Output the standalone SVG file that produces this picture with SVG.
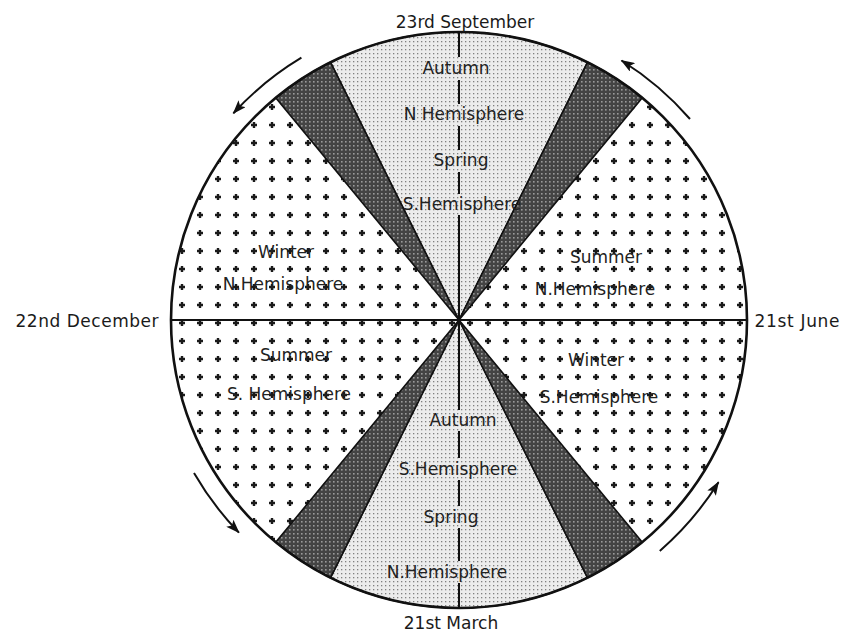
<svg xmlns="http://www.w3.org/2000/svg" width="845" height="632" viewBox="0 0 845 632">
<style>
  .lbl{font-family:"DejaVu Sans","Liberation Sans",sans-serif;font-size:17px;fill:#222;text-anchor:middle}
  .out{font-family:"DejaVu Sans","Liberation Sans",sans-serif;font-size:17px;fill:#1a1a1a;text-anchor:middle}
  .ax{stroke:#111;stroke-width:2;fill:none}
  .edge{stroke:#111;stroke-width:1.6}
  .arr{stroke:#111;stroke-width:2;fill:none;marker-end:url(#ah)}
</style>
<defs>
  <pattern id="plus" width="18" height="18" patternUnits="userSpaceOnUse" x="-7" y="8">
    <rect width="18" height="18" fill="#fff"/>
    <path d="M6 9H12M9 6V12" stroke="#1a1a1a" stroke-width="2.4"/>
  </pattern>
  <pattern id="stip" width="4" height="4" patternUnits="userSpaceOnUse">
    <rect width="4" height="4" fill="#ececec"/>
    <rect x="1" y="1" width="1.3" height="1.3" fill="#808080"/>
  </pattern>
  <pattern id="dark" width="4" height="4" patternUnits="userSpaceOnUse">
    <rect width="4" height="4" fill="#444"/>
    <rect x="1" y="1" width="1.6" height="1.6" fill="#9a9a9a"/>
  </pattern>
  <marker id="ah" viewBox="0 0 14 10" refX="13" refY="5" markerWidth="14" markerHeight="10" markerUnits="userSpaceOnUse" orient="auto">
    <path d="M0 0L14 5L0 10L3 5z" fill="#111"/>
  </marker>
</defs>

<g id="disc">
  <circle cx="459" cy="320" r="288" fill="url(#plus)"/>
</g>

<g id="light-wedges" class="edge">
  <path id="wedge-top" d="M459 320L330.5 62.3A288 288 0 0 1 587.5 62.3Z" fill="url(#stip)"/>
  <path id="wedge-bottom" d="M459 320L587.5 577.7A288 288 0 0 1 330.5 577.7Z" fill="url(#stip)"/>
</g>

<g id="dark-wedges" class="edge">
  <path id="dark-tl" d="M459 320L275.8 97.8A288 288 0 0 1 330.5 62.3Z" fill="url(#dark)"/>
  <path id="dark-tr" d="M459 320L587.5 62.3A288 288 0 0 1 642.2 97.8Z" fill="url(#dark)"/>
  <path id="dark-br" d="M459 320L642.2 542.2A288 288 0 0 1 587.5 577.7Z" fill="url(#dark)"/>
  <path id="dark-bl" d="M459 320L330.5 577.7A288 288 0 0 1 275.8 542.2Z" fill="url(#dark)"/>
</g>

<g id="axes">
  <path class="ax" d="M172 320H747"/>
  <path class="ax" d="M459 32V57M459 80V104M459 126V150M459 172V194M459 215V410M459 431V458M459 480V506M459 528V561M459 583V608"/>
</g>

<g id="outline">
  <circle cx="459" cy="320" r="288" fill="none" stroke="#111" stroke-width="2.6"/>
</g>

<g id="connectors">
  <path class="arr" d="M690 119A306 306 0 0 0 621.5 60.5"/>
  <path class="arr" d="M301.4 57.7A306 306 0 0 0 233.4 113.3"/>
  <path class="arr" d="M194 473A306 306 0 0 0 238.9 532.6"/>
  <path class="arr" d="M659.8 550.9A306 306 0 0 0 718.5 482.2"/>
</g>

<g id="dates">
  <text class="out" x="465" y="28">23rd September</text>
  <text class="out" x="87" y="327" textLength="143">22nd December</text>
  <text class="out" x="797" y="327" textLength="85">21st June</text>
  <text class="out" x="451" y="629">21st March</text>
</g>

<g id="top-labels">
  <text class="lbl" x="456" y="74">Autumn</text>
  <text class="lbl" x="464" y="120">N Hemisphere</text>
  <text class="lbl" x="461" y="166">Spring</text>
  <text class="lbl" x="462" y="210">S.Hemisphere</text>
</g>

<g id="left-labels">
  <text class="lbl" x="286" y="258">Winter</text>
  <text class="lbl" x="283" y="290">N.Hemisphere</text>
  <text class="lbl" x="296" y="361">Summer</text>
  <text class="lbl" x="289" y="400">S. Hemisphere</text>
</g>

<g id="right-labels">
  <text class="lbl" x="606" y="263">Summer</text>
  <text class="lbl" x="595" y="295">N.Hemisphere</text>
  <text class="lbl" x="596" y="366">Winter</text>
  <text class="lbl" x="599" y="403">S.Hemisphere</text>
</g>

<g id="bottom-labels">
  <text class="lbl" x="463" y="426">Autumn</text>
  <text class="lbl" x="458" y="475">S.Hemisphere</text>
  <text class="lbl" x="451" y="523">Spring</text>
  <text class="lbl" x="447" y="578">N.Hemisphere</text>
</g>
</svg>
